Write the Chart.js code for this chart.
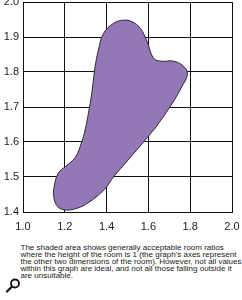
<!DOCTYPE html>
<html>
<head>
<meta charset="utf-8">
<script src="https://cdn.jsdelivr.net/npm/chart.js@4"></script>
<style>
  html, body { margin: 0; padding: 0; background: #fff; }
  body { width: 242px; height: 300px; position: relative; overflow: hidden; font-family: "Liberation Sans", Arial, sans-serif; }
  #wrap { position: absolute; left: 0; top: 0; width: 242px; height: 236px; }
  #caption { position: absolute; left: 20.5px; top: 243.5px; font-size: 8px; line-height: 7px; color: #1a1a1a; white-space: nowrap; }
  #glass { position: absolute; left: 0; top: 272px; }
</style>
</head>
<body>
<div id="wrap"><canvas id="chart" width="242" height="236"></canvas></div>
<div id="caption">
The shaded area shows generally acceptable room ratios<br>
where the height of the room is 1 (the graph's axes represent<br>
the other two dimensions of the room). However, not all values<br>
within this graph are ideal, and not all those falling outside it<br>
are unsuitable.
</div>
<svg id="glass" width="24" height="24" viewBox="0 0 24 24">
  <circle cx="15" cy="11.5" r="4" fill="none" stroke="#111" stroke-width="1.8"/>
  <line x1="12" y1="14.5" x2="7" y2="19.5" stroke="#111" stroke-width="2.2" stroke-linecap="round"/>
</svg>
<script>
/* ---------------- DATA ---------------- */
// outline of the acceptable region (length ratio vs width ratio)
const shapeX = [1.633, 1.577, 1.505, 1.433, 1.400, 1.360, 1.300, 1.249, 1.200, 1.165, 1.147, 1.150, 1.168,
                1.205, 1.250, 1.281, 1.297, 1.313, 1.329, 1.345, 1.361, 1.385, 1.433, 1.480, 1.521, 1.561,
                1.593, 1.624, 1.660, 1.720, 1.765, 1.787, 1.760, 1.704, 1.633];
const shapeY = [1.640, 1.600, 1.550, 1.500, 1.472, 1.448, 1.422, 1.409, 1.406, 1.416, 1.444, 1.475, 1.510,
                1.531, 1.556, 1.600, 1.634, 1.682, 1.739, 1.815, 1.863, 1.910, 1.939, 1.948, 1.944, 1.925,
                1.888, 1.840, 1.831, 1.831, 1.818, 1.796, 1.758, 1.701, 1.640];

const xTicks = [1.0, 1.2, 1.4, 1.6, 1.8, 2.0];
const yTicks = [1.4, 1.5, 1.6, 1.7, 1.8, 1.9, 2.0];

const points = shapeX.map((x, i) => ({ x: x, y: shapeY[i] }));

/* ---------------- CHART ---------------- */
const tickFont = { family: "'Liberation Sans', Arial, sans-serif", size: 11 };

new Chart(document.getElementById("chart"), {
    type: 'scatter',
    data: {
        datasets: [{
            data: points,
            showLine: true,
            fill: 'shape',
            backgroundColor: '#9477b6',
            borderColor: '#2a2a2a',
            borderWidth: 1,
            tension: 0.4,
            pointRadius: 0,
            pointHoverRadius: 0
        }]
    },
    options: {
        responsive: false,
        animation: false,
        devicePixelRatio: 1,
        layout: { padding: { top: 2, right: 10, left: 0, bottom: 0 } },
        plugins: { legend: { display: false }, tooltip: { enabled: false } },
        scales: {
            x: {
                type: 'linear',
                min: 1.0,
                max: 2.0,
                afterBuildTicks: (s) => { s.ticks = xTicks.map(v => ({ value: v })); },
                afterFit: (s) => { s.height = 24; s.paddingLeft = 0; s.paddingRight = 0; },
                ticks: { font: tickFont, color: '#222', padding: 8, maxRotation: 0,
                         callback: (v) => Number(v).toFixed(1) },
                grid: { color: '#111', lineWidth: 1, drawTicks: false },
                border: { color: '#111', width: 1 }
            },
            y: {
                type: 'linear',
                min: 1.4,
                max: 2.0,
                afterBuildTicks: (s) => { s.ticks = yTicks.map(v => ({ value: v })); },
                afterFit: (s) => { s.width = 23; s.paddingTop = 0; s.paddingBottom = 0; },
                ticks: { font: tickFont, color: '#222', padding: 4,
                         callback: (v) => Number(v).toFixed(1) },
                grid: { color: '#111', lineWidth: 1, drawTicks: false },
                border: { color: '#111', width: 1 }
            }
        }
    }
});
</script>
</body>
</html>
